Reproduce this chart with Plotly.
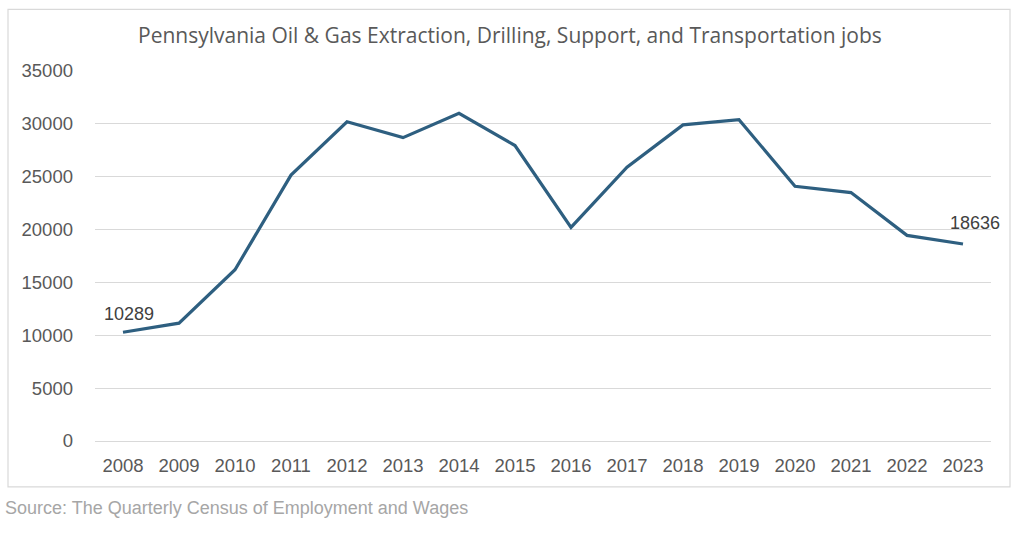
import plotly.graph_objects as go

years = ["2008", "2009", "2010", "2011", "2012", "2013", "2014", "2015",
         "2016", "2017", "2018", "2019", "2020", "2021", "2022", "2023"]
jobs = [10289, 11150, 16200, 25150, 30200, 28700, 31000, 27950,
        20200, 25900, 29900, 30400, 24100, 23500, 19450, 18636]
y_ticks = [0, 5000, 10000, 15000, 20000, 25000, 30000, 35000]

title_text = "Pennsylvania Oil & Gas Extraction, Drilling, Support, and Transportation jobs"
source_text = "Source: The Quarterly Census of Employment and Wages"

W, H = 1024, 538
L, R, T, B = 95, 991, 70.7, 440.7
pw, ph = R - L, B - T

def px(x):
    return (x - L) / pw

def py(y):
    return (B - y) / ph

fig = go.Figure()
fig.add_trace(go.Scatter(
    x=years, y=jobs, mode="lines",
    line=dict(color="#2e5f80", width=3.2),
    hoverinfo="x+y", showlegend=False,
))

fig.update_layout(
    width=W, height=H,
    margin=dict(l=L, r=W - R, t=T, b=H - B, pad=0),
    paper_bgcolor="white", plot_bgcolor="white",
    font=dict(family="Liberation Sans, Arial, sans-serif", color="#595959", size=18),
    xaxis=dict(type="category", range=[-0.5, len(years) - 0.5],
               showgrid=False, zeroline=False, showline=False,
               ticks="", ticklabelstandoff=11,
               tickfont=dict(size=18.5, color="#595959")),
    yaxis=dict(range=[0, 35000], tickvals=y_ticks, ticktext=[str(v) for v in y_ticks],
               showgrid=True, gridcolor="#d9d9d9", gridwidth=1.2,
               zeroline=True, zerolinecolor="#d9d9d9", zerolinewidth=1.2,
               showline=False, ticks="", ticklabelstandoff=21,
               tickfont=dict(size=18.5, color="#595959")),
    shapes=[dict(type="rect", xref="paper", yref="paper",
                 x0=px(8), x1=px(1010), y0=py(486.5), y1=py(9),
                 line=dict(color="#d9d9d9", width=1.2), fillcolor="rgba(0,0,0,0)",
                 layer="below")],
    annotations=[
        dict(text=title_text, xref="paper", yref="paper", x=px(510), y=py(35),
             xanchor="center", yanchor="middle", showarrow=False,
             font=dict(family="Open Sans, sans-serif", size=21, color="#595959")),
        dict(text=source_text, xref="paper", yref="paper", x=px(3), y=py(508),
             xanchor="left", yanchor="middle", showarrow=False,
             font=dict(family="Liberation Sans, Arial, sans-serif", size=18, color="#a6a6a6")),
        dict(text=str(jobs[0]), x=0, y=jobs[0], xref="x", yref="y",
             xanchor="center", yanchor="middle", yshift=18, xshift=6, showarrow=False,
             font=dict(family="Liberation Sans, Arial, sans-serif", size=18, color="#404040")),
        dict(text=str(jobs[-1]), x=len(years) - 1, y=jobs[-1], xref="x", yref="y",
             xanchor="center", yanchor="middle", yshift=21, xshift=12, showarrow=False,
             font=dict(family="Liberation Sans, Arial, sans-serif", size=18, color="#404040")),
    ],
)

fig.write_html("out.html", config={"displayModeBar": False},
               post_script="document.body.style.margin='0';document.body.style.padding='0';")
